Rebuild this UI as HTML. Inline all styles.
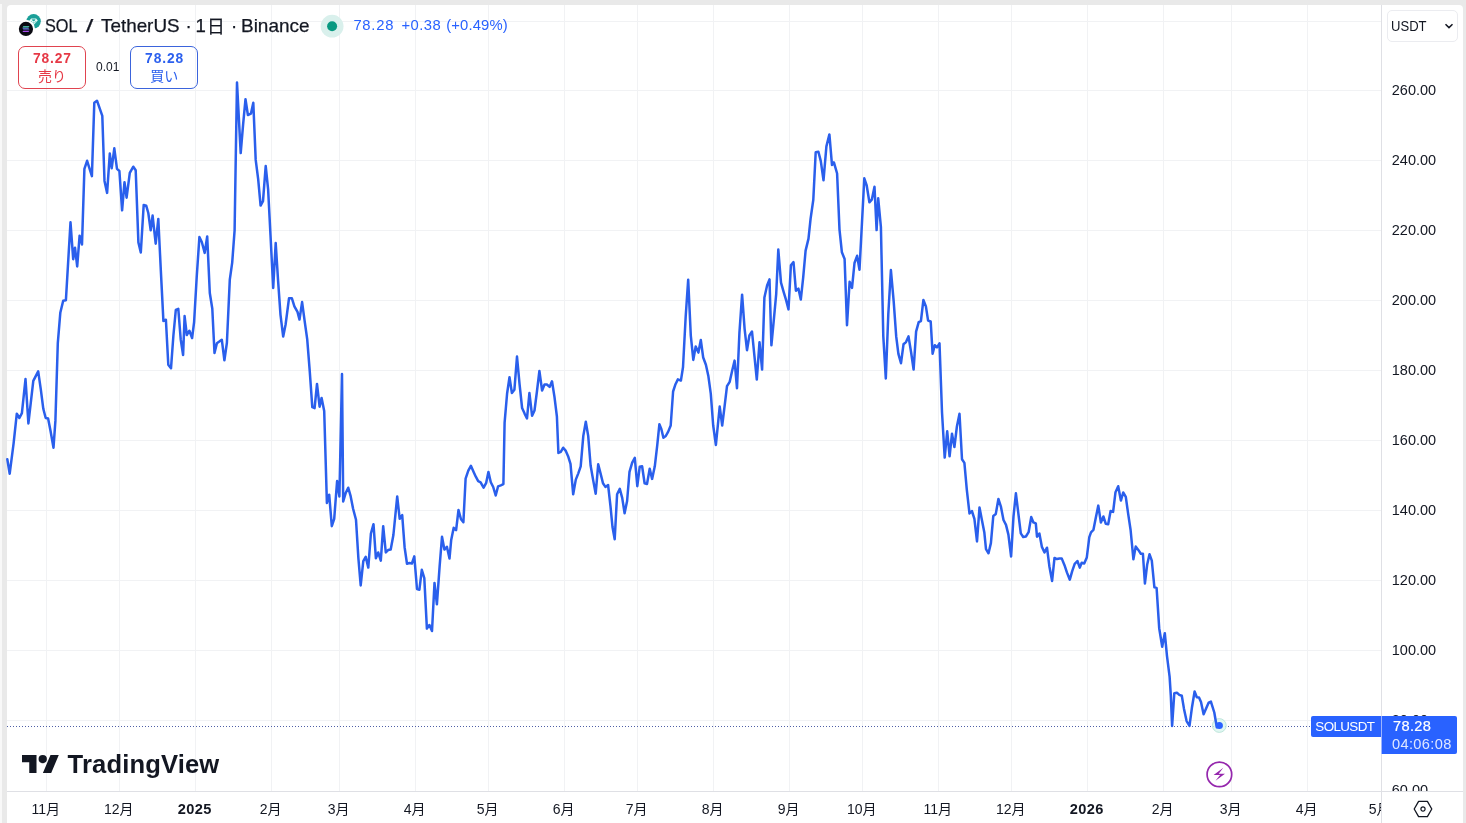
<!DOCTYPE html>
<html lang="ja">
<head>
<meta charset="utf-8">
<title>SOLUSDT</title>
<style>
html,body{margin:0;padding:0;}
body{width:1466px;height:823px;overflow:hidden;background:#e9e9e9;position:relative;font-family:"Liberation Sans","Noto Sans CJK JP",sans-serif;color:#131722;}
#lw{position:absolute;left:0;top:4px;width:2.3px;height:823px;background:#f8f8f8;}
#panel{position:absolute;left:6.6px;top:4.8px;width:1456.6px;height:830px;background:#fff;border-radius:4px 4px 0 0;}
svg#chart{position:absolute;left:0;top:0;}
.abs{position:absolute;white-space:nowrap;}
.tl{position:absolute;top:799px;width:80px;margin-left:-40px;text-align:center;font-size:14px;line-height:20px;color:#131722;}
.tl b{font-weight:bold;font-size:14.6px;letter-spacing:0.35px;}
.w{position:absolute;top:0;transform-origin:0 50%;white-space:nowrap;}
.pl{position:absolute;left:1391.8px;font-size:14.5px;line-height:20px;margin-top:-10.5px;color:#131722;}
</style>
</head>
<body>
<div id="lw"></div>
<div id="panel"></div>
<svg id="chart" width="1466" height="823" viewBox="0 0 1466 823">
<g stroke="#f1f2f4" stroke-width="1" fill="none" shape-rendering="crispEdges">
<path d="M7 21.5H1381M7 90.5H1381M7 160.5H1381M7 230.5H1381M7 300.5H1381M7 370.5H1381M7 440.5H1381M7 510.5H1381M7 580.5H1381M7 650.5H1381M7 720.5H1381"/>
<path d="M46.5 5V791M119.5 5V791M195.5 5V791M271.5 5V791M339.5 5V791M415.5 5V791M488.5 5V791M564.5 5V791M637.5 5V791M713.5 5V791M789.5 5V791M862.5 5V791M938.5 5V791M1011.5 5V791M1087.5 5V791M1163.5 5V791M1231.5 5V791M1307.5 5V791"/>
</g>
<g stroke="#dfe0e5" stroke-width="1" fill="none" shape-rendering="crispEdges">
<path d="M7 791.5H1463M1381.5 5V823"/>
</g>
<path d="M7 726.5H1312" stroke="#4f5fa6" stroke-width="1" stroke-dasharray="1 2" fill="none" shape-rendering="crispEdges"/>
<circle cx="1219.3" cy="725.5" r="6.9" fill="#d6f4ee" fill-opacity="0.75" stroke="#b4dfd3" stroke-width="0.8"/>
<!--LINE-->
<path id="pl" d="M7.3 459.3L9.7 473.7L13.6 443.3L16.8 413.7L19.4 418L21.9 413.2L25.5 379.1L28.4 423.4L33.3 380.9L38.2 371.4L40.8 389.4L43.3 408.8L45.7 418L48.1 418.5L50.5 430.7L53.5 447.7L55.4 420.9L57.8 343.2L60.3 312.8L63.2 300.7L65.9 300.2L70.5 222.3L73.2 259.2L75 247.7L77.2 266.4L79.6 235.7L82 244.5L84.4 168.9L87.1 160.8L91.9 176.1L94.3 102.8L97 100.7L102.3 115.9L104.5 180.9L107.1 192.9L109.8 153.6L111.7 168.3L114.3 148.3L117 168.9L119.4 171L122.1 210.3L124.5 182.2L126.6 197.7L129.8 172.9L133.3 166.7L135.7 170.2L138.4 242.4L140.8 252.5L143.7 204.9L146.2 205.7L148.3 213L150.7 230.3L152.6 215.6L155.7 243.7L158.3 218.9L160.8 269.9L163.4 320.9L165.9 319.7L168.3 364.7L171 368.3L173.4 335.5L175.8 310L178.3 308.8L180.7 339.2L183.1 355L184.6 316.1L186.8 335L189.4 330.7L192.1 338L194.1 322.2L196.7 277.2L199.4 237.1L201.8 242L204.7 252.9L207.2 236.4L209.8 293L212.3 308.8L214.5 353L216.9 343.3L219.3 341.6L221.8 339.7L224.4 360.3L226.9 342.8L229.8 279.6L232.2 262.6L234.6 230.4L235.8 155.1L237 82.6L240.7 153.1L243.1 124.7L245.5 99.2L247.9 115L250.9 113.7L253.3 102.8L255.7 159.9L258.2 179.4L260.6 205.6L263 201.2L265.7 166L268.1 189.1L270.5 235.2L273.2 288L275.7 243.1L278.1 280.8L280.5 314.8L283.2 336.6L285.6 324.5L289 298.3L291.9 298.3L294.4 306.3L297.5 311.9L299.5 319.6L302.1 302.1L304.8 322.1L307.2 339.1L309.7 370.7L312.3 407.2L314.6 408.1L317 383.9L319.6 406.7L321.6 397.9L324.2 411L326.9 502.9L329.2 494.7L331.8 526.2L334.2 518.9L337.1 481L339.4 496.5L342 374L343.2 501.4L345.8 492.7L348.2 487.7L350.5 495.6L353.1 508.7L356 519.8L358.4 558.3L360.7 585.4L363.3 561.2L365.7 556.9L368.3 567.6L370.9 533.5L373.5 524.2L375.9 558.3L378.2 552.5L380.8 560.6L383.2 526.2L385.8 552.5L388.1 550.1L390.7 549.6L393.4 535L397.2 496.5L399.7 518.8L402.2 515.1L404.6 547.2L407 563.7L409.4 563L411.9 563.5L414.3 556.4L417 589L419.4 589.7L421.8 569.8L424.3 578.1L426.9 628.6L429.4 625L432 631L434.5 582.9L436.9 604.3L439.6 566.6L442 536.8L444.4 549.6L446.9 546.7L449.5 558.6L451.2 539.9L453.7 527.8L456.1 530.2L458.5 510L461 519.3L463.4 522.2L465.6 478.7L468.3 470.7L470.9 465.8L473.4 471.4L475.8 476.7L478.2 481.1L480.6 482.3L483.6 487.7L486.2 482.8L488.4 471.9L490.8 482.2L493.2 487L495.7 495.5L498.1 486.3L500.8 485.3L503.4 484.1L504.6 422.6L507.1 393.5L509.5 377.2L511.9 393L514.4 389.8L517 356.5L519.5 383.7L522.1 408L524.6 413.6L527 418.5L529.4 393L532.1 415.8L534.5 410.5L537 391L539.4 370.9L542.1 390.5L544.5 384.5L546.9 384.5L549.6 386.9L552 381.3L554.5 397.1L556.9 416.5L558.4 453L560.8 451.8L563.2 447.7L565.6 450.6L568.1 456.2L570.5 463.9L573.2 494.3L575.8 479.6L578.2 473.6L580.7 466.3L583.3 435.9L585.8 421.8L588.2 435.9L590.6 465.5L593.3 480.9L595.7 493.7L598.2 464.3L600.6 473.6L603 483.3L605.4 486.9L608.1 485L610.5 506.4L612.5 527L614.7 539.2L617.1 494.2L619.8 488.9L622.2 497.9L624.6 513.2L627.1 501L629.5 471.9L632.2 462.6L634.8 457.8L637.3 486.2L639.7 466.8L642.1 466.3L644.6 483.3L647 484L649.7 468.7L652.1 478.9L654.8 466.3L657.2 445.6L659.4 424.2L661.4 429.2L663.4 437.7L665.8 436L668.2 431.6L670.7 425.5L673.1 391.5L675.5 384.2L677.9 379.4L680.9 380.6L683 367.2L685.7 316.2L688.2 279.7L690.8 335.6L693.3 359.9L695.7 346.5L698.4 352.6L700.8 340L703.2 357.5L705.9 364.8L708.3 375.7L710.8 393.9L713.2 425.5L715.9 445L719.7 406.6L722.2 425.5L724.6 406.1L727 386.2L729.7 381.8L732.1 370.9L734.6 360.6L737 388.3L739.4 333.2L742.1 294.7L744.6 328.8L747 350.2L749.4 335.5L752 331.5L754.4 355.6L756.8 379.6L759.5 342.2L762.1 369.6L764.4 297.4L767.1 285.4L769.5 279.4L771.4 345.3L773.8 320.1L776.2 294.1L778.3 249.6L781 282.7L783.7 292.1L786.1 300.1L788.5 309.4L790.9 265.3L793.5 262.1L795.9 290.7L798.4 288.6L800.8 299.6L803.2 277.4L805.6 250.6L808.5 238.6L810.6 218.6L813.3 199.8L815.7 152.3L818.4 151.7L820.8 161.1L823.5 180.3L826.4 146.4L829.4 134.4L832 165.1L833.9 162.4L837.1 173.5L839.5 229.6L841.9 252.3L844.6 259L847 325.3L849.6 281.7L852 287.9L854.5 263L857.1 255.8L859.5 269.7L861.9 224.3L864.3 178.3L866.7 185.5L869.4 202.3L871.8 199.7L874.5 186.8L876.6 230.1L878.2 198.3L880.9 226.9L883.3 336.4L885.8 378.4L888.3 314.3L890.9 270L893.7 301.6L896.2 336.4L898.4 353.8L901 363.2L903.5 344.3L906 342.1L908.5 336.4L911.1 352.2L913.6 369.6L916.1 331.6L918.7 322.2L920.9 321.2L923.4 300L925.9 306.4L928.1 320.6L930.7 321.5L932.6 353.8L934.8 345.2L937 347.4L939.5 343.3L942 412.2L944.7 457.6L947.2 431.3L949.6 456.3L952 433.7L954.4 447.1L956.9 426.5L959.5 413.8L962 459.3L964.4 462.9L966.8 489.6L969.5 513.5L971.9 511L974.4 518.8L977 541.4L979.5 507.4L981.9 520L984.3 532.2L986 549.2L988.5 553.3L990.9 543.1L993.3 515.9L995.8 513.9L998.4 498.9L1000.9 506.6L1003.5 520L1006 524.9L1008.4 534.6L1011.1 556.5L1013.5 516.4L1015.9 493.3L1018.4 513.9L1020.8 533.4L1023.2 537L1025.9 536.5L1028.6 532.2L1031.2 517.1L1033.4 522.4L1035.8 523.4L1037 536.7L1039.4 533.6L1041.9 546.9L1044.5 552.5L1047 547.7L1049.4 566.4L1052.1 580.9L1054.5 557.9L1056.9 559.1L1059.4 558.6L1061.8 558.6L1064.5 565.2L1066.9 572.4L1069.8 579.7L1072.2 571.2L1074.7 563.9L1077.4 561L1079.8 567.6L1081.7 562.7L1084.2 563.5L1086.8 557.4L1089.3 537.2L1091 532.3L1093.4 529.9L1095.8 517.8L1098.3 505.6L1100.9 522.6L1103.4 516.5L1105.8 523.8L1108.2 524.3L1110.6 511L1113.1 511.9L1115.5 492.2L1118.2 486.2L1120.9 500.6L1123.2 492.5L1125.8 496.8L1128.1 513.4L1130.6 530L1133.4 559.3L1135.7 546.6L1138.3 549.9L1140.8 553.7L1142.9 553.7L1144.9 583.5L1147.2 564.4L1149.5 554.2L1151.8 560.6L1154.4 587.4L1156.6 587.9L1159.2 628.2L1162.2 646.8L1164.8 633.2L1167 656.1L1169.6 676.6L1170.8 695.3L1172.1 725.9L1174.3 693.2L1176.9 692.7L1179.3 694.9L1181.8 695.8L1184 708.9L1186.6 721.1L1189.5 725.9L1192 707.2L1194.6 691.5L1196.8 697.3L1199 697.5L1201 702.1L1203.6 714.3L1206.1 708.4L1208.7 702.6L1210.9 701.6L1214.3 712.5L1216.8 727.2L1219.3 725.6" fill="none" stroke="#2a5fec" stroke-width="2.5" stroke-linejoin="round" stroke-linecap="round"/>
<!--/LINE-->
<circle cx="1219.3" cy="725.5" r="3.6" fill="#2962ff"/>
<g transform="translate(1219.4 774.4)">
<circle r="12.3" fill="#fff" stroke="#9527ad" stroke-width="1.7"/>
<path d="M3.9 -6.6L-5.8 0.6L0.7 0.6L-3.9 6.3L5.6 -0.7L-0.7 -0.7Z" fill="#9527ad"/>
</g>
</svg>

<!-- header -->
<svg class="abs" style="left:16px;top:12px" width="28" height="26" viewBox="16 12 28 26">
<circle cx="33.6" cy="21.3" r="7.2" fill="#1a9f98"/>
<path d="M31.2 18.4h4.9l1.7 2.1-4.15 4.5-4.15-4.5z" fill="#e6fbf8"/>
<path d="M32.2 19.7h2.9l-1.45 1.5zM31.2 21.2l1.3 1.5M36.1 21.2l-1.3 1.5M33.65 22.3v1.2" fill="#1a9f98" stroke="#1a9f98" stroke-width="0.7"/>
<circle cx="25.95" cy="28.9" r="9.1" fill="#fff"/>
<circle cx="25.95" cy="28.9" r="7.1" fill="#0a0a12"/>
<path d="M22.4 27.5h6.1l1-1.25h-6.1z" fill="#58e2cf"/>
<path d="M22.4 28.3h6.1l1 1.25h-6.1z" fill="#6f7df0"/>
<path d="M22.4 32.1h6.1l1-1.25h-6.1z" fill="#a94cf0"/>
</svg>
<div class="abs" id="ttl" style="left:0;top:14.3px;-webkit-text-stroke:0.25px #131722;font-size:18.6px;line-height:24px;color:#131722;height:24px;">
<span class="w" id="t1" style="left:45.2px;transform:scaleX(0.875);">SOL</span><span class="w" id="t2" style="left:86px;transform:scaleX(1.4);">/</span><span class="w" id="t3" style="left:100.6px;transform:scaleX(1.014);">TetherUS</span><span class="w" id="t4" style="left:185.6px;">·</span><span class="w" id="t5" style="left:195.6px;">1</span><span class="w" id="t5b" style="left:206.9px;font-size:17.8px;top:0.4px;">日</span><span class="w" id="t6" style="left:231px;">·</span><span class="w" id="t7" style="left:241px;transform:scaleX(1.02);">Binance</span></div>
<svg class="abs" style="left:320px;top:14px" width="24" height="24"><circle cx="12.1" cy="12.2" r="11.4" fill="#d9f0ec"/><circle cx="12.1" cy="12.2" r="5" fill="#089981"/></svg>
<div class="abs" id="hv" style="left:0;top:15.3px;font-size:14.8px;line-height:20px;color:#2962ff;height:20px;"><span class="w" id="v1" style="left:353.4px;letter-spacing:0.75px;">78.28</span><span class="w" id="v2" style="left:401.4px;letter-spacing:0.5px;">+0.38</span><span class="w" id="v3" style="left:446.2px;letter-spacing:0.15px;">(+0.49%)</span></div>

<div class="abs" style="left:18px;top:46.4px;width:66px;height:41px;border:1px solid #e0434f;border-radius:7px;text-align:center;color:#e63946;">
 <div style="font-weight:bold;font-size:13.8px;letter-spacing:0.9px;text-indent:0.9px;line-height:16px;margin-top:3.8px;">78.27</div>
 <div style="font-size:14px;line-height:16px;margin-top:0.8px;">売り</div>
</div>
<div class="abs" style="left:96px;top:58.5px;font-size:12px;line-height:16px;color:#131722;">0.01</div>
<div class="abs" style="left:130.2px;top:46.4px;width:66px;height:41px;border:1px solid #3b64dc;border-radius:7px;text-align:center;color:#2c60ee;">
 <div style="font-weight:bold;font-size:13.8px;letter-spacing:0.9px;text-indent:0.9px;line-height:16px;margin-top:3.8px;">78.28</div>
 <div style="font-size:14px;line-height:16px;margin-top:0.8px;">買い</div>
</div>

<!-- USDT selector -->
<div class="abs" style="left:1386.5px;top:10.4px;width:69.5px;height:29.6px;border:1px solid #ebecf0;border-radius:5px;background:#fff;"></div>
<div class="abs" style="left:1391.2px;top:16.2px;font-size:14.5px;line-height:20px;color:#131722;transform:scaleX(0.9);transform-origin:0 50%;">USDT</div>
<svg class="abs" style="left:1443px;top:21px" width="12" height="10"><path d="M2.5 3.2L6 6.6L9.5 3.2" fill="none" stroke="#131722" stroke-width="1.5"/></svg>

<!-- price labels -->
<div class="pl" style="top:90.3px">260.00</div>
<div class="pl" style="top:160.3px">240.00</div>
<div class="pl" style="top:230.3px">220.00</div>
<div class="pl" style="top:300.3px">200.00</div>
<div class="pl" style="top:370.3px">180.00</div>
<div class="pl" style="top:440.3px">160.00</div>
<div class="pl" style="top:510.3px">140.00</div>
<div class="pl" style="top:580.3px">120.00</div>
<div class="pl" style="top:650.3px">100.00</div>
<div class="pl" style="top:720.3px">80.00</div>
<div class="abs" style="left:1382px;top:770px;width:80px;height:21px;overflow:hidden;"><div style="position:absolute;left:9.8px;top:10.3px;font-size:14.5px;line-height:20px;">60.00</div></div>

<!-- last price labels -->
<div class="abs" style="left:1311px;top:715.8px;width:70.5px;height:21px;background:#2962ff;border-radius:2px 0 0 2px;color:#fff;font-size:13.4px;line-height:21px;"><span style="position:absolute;left:4.3px;top:0;letter-spacing:-0.6px;">SOLUSDT</span></div>
<div class="abs" style="left:1381px;top:715.8px;width:76px;height:38px;background:#2962ff;border-radius:0 2px 2px 0;color:#fff;font-size:14.6px;letter-spacing:0.35px;border-left:1px solid #9db4ff;box-sizing:border-box;">
 <div style="position:absolute;left:11px;top:1.5px;line-height:18px;-webkit-text-stroke:0.2px #fff;">78.28</div>
 <div style="position:absolute;left:10px;top:19px;line-height:18px;color:#dfe7ff;">04:06:08</div>
</div>

<!-- time axis -->
<div class="tl" style="left:45.7px">11月</div>
<div class="tl" style="left:118.7px">12月</div>
<div class="tl" style="left:194.7px"><b>2025</b></div>
<div class="tl" style="left:270.7px">2月</div>
<div class="tl" style="left:338.7px">3月</div>
<div class="tl" style="left:414.7px">4月</div>
<div class="tl" style="left:487.7px">5月</div>
<div class="tl" style="left:563.7px">6月</div>
<div class="tl" style="left:636.7px">7月</div>
<div class="tl" style="left:712.7px">8月</div>
<div class="tl" style="left:788.7px">9月</div>
<div class="tl" style="left:861.7px">10月</div>
<div class="tl" style="left:937.7px">11月</div>
<div class="tl" style="left:1010.7px">12月</div>
<div class="tl" style="left:1086.7px"><b>2026</b></div>
<div class="tl" style="left:1162.7px">2月</div>
<div class="tl" style="left:1230.7px">3月</div>
<div class="tl" style="left:1306.7px">4月</div>
<div class="abs" style="left:1350px;top:799px;width:31px;height:22px;overflow:hidden;"><div class="tl" style="left:29.6px;top:0">5月</div></div>
<svg class="abs" style="left:1410px;top:797px" width="26" height="24" viewBox="-13 -12 26 24"><path d="M-4.4 -7.6H4.4L8.8 0L4.4 7.6H-4.4L-8.8 0Z" fill="none" stroke="#131722" stroke-width="1.3" stroke-linejoin="round"/><circle r="2.1" fill="none" stroke="#131722" stroke-width="1.2"/></svg>

<!-- TradingView logo -->
<svg class="abs" style="left:22.2px;top:754.9px" width="36.8" height="18.4" viewBox="0 4 35.5 18" preserveAspectRatio="none"><path d="M14 22H7V11H0V4h14v18zM28 22h-8l7.5-18h8L28 22z" fill="#131722"/><circle cx="20" cy="8" r="4" fill="#131722"/></svg>
<div class="abs" style="left:67.6px;top:748.8px;font-size:25.6px;line-height:30px;font-weight:bold;color:#131722;letter-spacing:0.13px;">TradingView</div>
</body>
</html>
